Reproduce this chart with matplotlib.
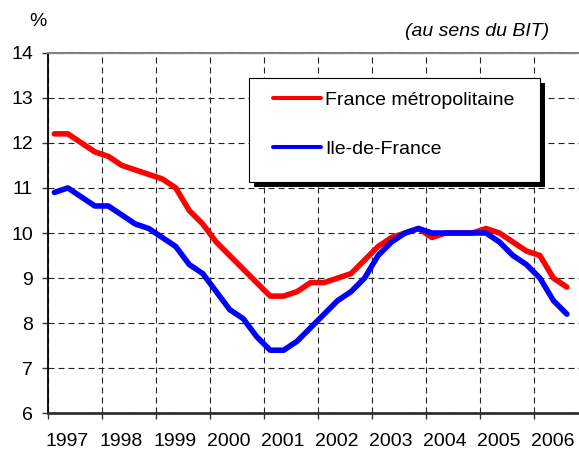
import matplotlib
matplotlib.use('Agg')
import matplotlib.pyplot as plt
from matplotlib.patches import Rectangle
from matplotlib.transforms import ScaledTranslation

# ---- data (quarterly unemployment rate, %, 1997 Q1 -> 2006 Q3) ----
years = list(range(1997, 2007))
year_labels = [str(y) for y in years]
y_ticks = [6, 7, 8, 9, 10, 11, 12, 13, 14]

france = [12.2, 12.2, 12.0, 11.8,
          11.7, 11.5, 11.4, 11.3,
          11.2, 11.0, 10.5, 10.2,
          9.8, 9.5, 9.2, 8.9,
          8.6, 8.6, 8.7, 8.9,
          8.9, 9.0, 9.1, 9.4,
          9.7, 9.9, 10.0, 10.1,
          9.9, 10.0, 10.0, 10.0,
          10.1, 10.0, 9.8, 9.6,
          9.5, 9.0, 8.8]

idf = [10.9, 11.0, 10.8, 10.6,
       10.6, 10.4, 10.2, 10.1,
       9.9, 9.7, 9.3, 9.1,
       8.7, 8.3, 8.1, 7.7,
       7.4, 7.4, 7.6, 7.9,
       8.2, 8.5, 8.7, 9.0,
       9.5, 9.8, 10.0, 10.1,
       10.0, 10.0, 10.0, 10.0,
       10.0, 9.8, 9.5, 9.3,
       9.0, 8.5, 8.2]

series_labels = ['France métropolitaine', 'Ile-de-France']

plt.rcParams['font.family'] = ['Liberation Sans', 'DejaVu Sans']

W, H = 579, 450
fig = plt.figure(figsize=(W / 100, H / 100), dpi=100)
fig.patch.set_facecolor('white')

left_px, right_px, top_px, bottom_px = 48.3, 579.0, 52.7, 413.3
ax = fig.add_axes([left_px / W, 1 - bottom_px / H,
                   (right_px - left_px) / W, (bottom_px - top_px) / H])

x = [1997 + (i + 0.45) / 4 for i in range(len(france))]
ax.plot(x, france, color='#FF0000', lw=4.0, solid_capstyle='round',
        solid_joinstyle='round', label=series_labels[0], zorder=3)
ax.plot(x, idf, color='#0000FF', lw=4.0, solid_capstyle='round',
        solid_joinstyle='round', label=series_labels[1], zorder=3)

ax.set_xlim(1997, 1997 + (W - left_px) / 53.95)
ax.set_ylim(6, 14)
ax.set_yticks(y_ticks)
ax.set_xticks(years)
ax.set_xticklabels(year_labels, ha='left')

ax.tick_params(axis='both', labelsize=14, direction='out', color='#333333')
ax.tick_params(axis='y', length=4, width=1, pad=7)
ax.tick_params(axis='x', length=4.5, width=1, pad=10)

shift = ScaledTranslation(-3 / 100, 0, fig.dpi_scale_trans)
for lab in ax.get_xticklabels():
    lab.set_transform(lab.get_transform() + shift)

ax.set_axisbelow(True)
ax.grid(True, color='#222222', lw=0.8, linestyle=(0, (5.4, 3.6)))

ax.spines['left'].set_color('black')
ax.spines['left'].set_linewidth(1.3)
ax.spines['bottom'].set_color('#303030')
ax.spines['bottom'].set_linewidth(2.0)
ax.spines['top'].set_color('#808080')
ax.spines['top'].set_linewidth(1.5)
ax.spines['right'].set_visible(False)

# texts
fig.text(38 / W, 1 - 21 / H, '%', ha='center', va='center', fontsize=14)
fig.text(477.5 / W, 1 - 31 / H, '(au sens du BIT)', ha='center', va='center',
         fontsize=14, style='italic')

# legend frame with shadow
fx0, fy0, fx1, fy1 = 249.3, 78.3, 540.0, 181.7
shadow = Rectangle(((fx0 + 5) / W, 1 - (fy1 + 5) / H), (fx1 - fx0) / W, (fy1 - fy0) / H,
                   transform=fig.transFigure, facecolor='black', edgecolor='none', zorder=2)
frame = Rectangle((fx0 / W, 1 - fy1 / H), (fx1 - fx0) / W, (fy1 - fy0) / H,
                  transform=fig.transFigure, facecolor='white', edgecolor='black',
                  lw=0.8, zorder=3)
fig.add_artist(shadow)
fig.add_artist(frame)

leg = fig.legend(loc='upper left', bbox_to_anchor=(273 / W, 1 - 91 / H), frameon=False,
                 borderpad=0, borderaxespad=0, handlelength=2.47, handletextpad=0.2,
                 labelspacing=1.63, fontsize=14)
leg.set_zorder(5)
for h in leg.legend_handles:
    h.set_linewidth(2.9)
    h.set_solid_capstyle('round')

fig.savefig('out.png', dpi=100)
